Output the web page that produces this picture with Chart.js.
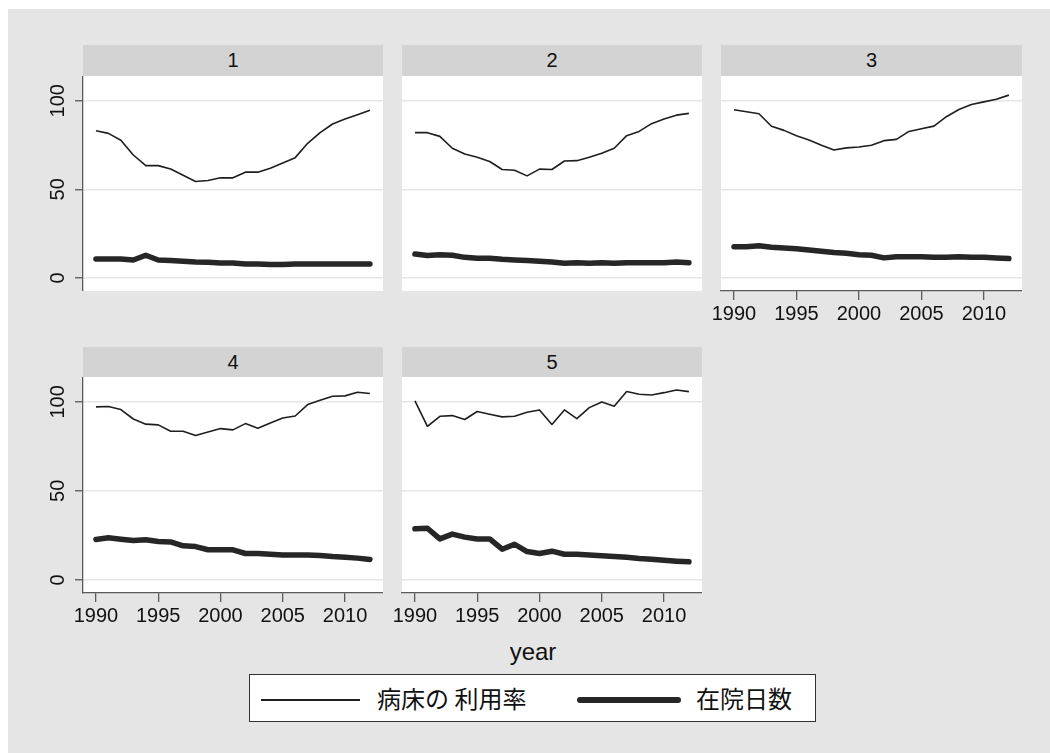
<!DOCTYPE html>
<html>
<head>
<meta charset="utf-8">
<script src="https://cdn.jsdelivr.net/npm/chart.js@4"></script>
<style>
  body { margin: 0; background: #fff; width: 1050px; height: 753px; position: relative; overflow: hidden; font-family: "Liberation Sans", Arial, sans-serif; }
  #bg { position: absolute; left: 8px; top: 9px; right: 0; bottom: 0; background: #e5e5e5; }
  canvas { position: absolute; }
  .strip { position: absolute; background: #d3d3d3; color: #111; font-size: 20px; text-align: center; }
  #xtitle { position: absolute; left: 433px; width: 200px; top: 638px; text-align: center; font-size: 24px; color: #111; }
  #legend { position: absolute; left: 249px; top: 674px; width: 565px; height: 46px; background: #fff; border: 1px solid #333; }
  #legend .ln { position: absolute; background: #1e1e1e; }
  #legend .txt { position: absolute; top: 0; height: 46px; line-height: 46px; font-family: "Noto Sans CJK JP", sans-serif; font-size: 24px; color: #111; white-space: pre; }
</style>
</head>
<body>
<div id="bg"></div>
<div id="xtitle">year</div>
<div id="legend">
  <div class="ln" style="left:11px; top:24px; width:99px; height:1.6px;"></div>
  <div class="txt" id="lab1" style="left:127px;"></div>
  <div class="ln" style="left:327px; top:22px; width:104px; height:6px; border-radius:3px; background:#262626;"></div>
  <div class="txt" id="lab2" style="left:446px;"></div>
</div>
<script>
// データ (1990-2012)
const years = [1990, 1991, 1992, 1993, 1994, 1995, 1996, 1997, 1998, 1999, 2000, 2001,
               2002, 2003, 2004, 2005, 2006, 2007, 2008, 2009, 2010, 2011, 2012];
const seriesNames = ['病床の 利用率', '在院日数'];
const panelNames = ['1', '2', '3', '4', '5'];
const xTicks = [1990, 1995, 2000, 2005, 2010];
const yTicks = [0, 50, 100];

const util1 = [83.1, 81.6, 77.7, 69.4, 63.4, 63.4, 61.5, 58.0, 54.4, 55.0, 56.5, 56.5, 59.7, 59.7, 61.9, 64.9, 67.9, 76.0, 82.0, 86.9, 89.7, 92.1, 94.6];
const stay1 = [10.7, 10.7, 10.7, 10.1, 12.8, 10.1, 9.8, 9.4, 9.0, 8.8, 8.4, 8.4, 7.9, 7.9, 7.5, 7.5, 7.9, 7.9, 7.9, 7.9, 7.9, 7.9, 7.9];
const util2 = [82.0, 82.0, 79.9, 73.2, 70.0, 68.1, 65.7, 61.2, 60.8, 57.6, 61.4, 61.2, 66.0, 66.2, 68.1, 70.4, 73.2, 80.3, 82.7, 87.1, 89.7, 91.9, 92.9];
const stay2 = [13.5, 12.6, 13.1, 12.8, 11.6, 11.1, 11.1, 10.5, 10.1, 9.8, 9.4, 9.0, 8.3, 8.6, 8.3, 8.6, 8.3, 8.6, 8.6, 8.6, 8.6, 9.0, 8.6];
const util3 = [94.9, 93.8, 92.7, 85.6, 83.3, 80.3, 77.9, 74.9, 72.2, 73.4, 73.9, 74.9, 77.5, 78.2, 82.7, 84.2, 85.7, 91.0, 95.1, 97.9, 99.4, 100.9, 103.2];
const stay3 = [17.6, 17.6, 18.2, 17.3, 16.9, 16.5, 15.8, 15.0, 14.3, 13.9, 13.1, 12.8, 11.3, 12.0, 12.0, 12.0, 11.6, 11.6, 12.0, 11.6, 11.6, 11.3, 10.9];
const util4 = [97.2, 97.4, 95.7, 90.4, 87.5, 87.1, 83.5, 83.5, 81.1, 83.1, 85.0, 84.3, 87.8, 85.2, 88.2, 91.0, 92.1, 98.5, 100.9, 103.2, 103.4, 105.4, 104.7];
const stay4 = [22.7, 23.6, 22.8, 22.1, 22.5, 21.5, 21.3, 19.1, 18.7, 16.9, 16.9, 16.9, 14.8, 14.8, 14.4, 14.0, 14.0, 14.0, 13.7, 13.1, 12.7, 12.2, 11.4];
const util5 = [100.6, 86.3, 91.9, 92.3, 90.1, 94.6, 93.1, 91.6, 91.9, 94.2, 95.5, 87.3, 95.5, 90.6, 96.8, 100.0, 97.6, 105.8, 104.3, 103.9, 105.2, 106.7, 105.8];
const stay5 = [28.7, 29.0, 23.0, 25.7, 24.0, 23.0, 23.0, 17.2, 20.0, 15.9, 14.8, 16.1, 14.4, 14.4, 13.9, 13.5, 13.1, 12.7, 12.0, 11.6, 11.0, 10.5, 10.1];

const utilData = [util1, util2, util3, util4, util5];
const stayData = [stay1, stay2, stay3, stay4, stay5];

// レイアウト
const panels = [
  { left: 0,   top: 76,  w: 383, h: 215, yw: 83, showY: true,  showX: false },
  { left: 386, top: 76,  w: 316, h: 215, yw: 16, showY: false, showX: false },
  { left: 705, top: 76,  w: 317, h: 260, yw: 16, showY: false, showX: true },
  { left: 0,   top: 377, w: 383, h: 261, yw: 83, showY: true,  showX: true },
  { left: 386, top: 377, w: 316, h: 261, yw: 16, showY: false, showX: true }
];
const stripTops = [45, 45, 45, 347, 347];
const stripH = [31, 31, 31, 30, 30];

const font = { family: "'Liberation Sans', Arial, sans-serif", size: 20 };
const axisColor = '#5a5a5a';

// プロット領域を白で塗る
const plotBg = {
  id: 'plotBg',
  beforeDraw(chart) {
    const a = chart.chartArea;
    const ctx = chart.ctx;
    ctx.save();
    ctx.fillStyle = '#ffffff';
    ctx.fillRect(a.left, a.top, a.right - a.left, a.bottom - a.top);
    ctx.restore();
  }
};

document.getElementById('lab1').textContent = seriesNames[0];
document.getElementById('lab2').textContent = seriesNames[1];

panels.forEach((p, i) => {
  const strip = document.createElement('div');
  strip.className = 'strip';
  strip.style.left = (p.left + p.yw) + 'px';
  strip.style.width = (p.w - p.yw) + 'px';
  strip.style.top = stripTops[i] + 'px';
  strip.style.height = stripH[i] + 'px';
  strip.style.lineHeight = stripH[i] + 'px';
  strip.textContent = panelNames[i];
  document.body.appendChild(strip);

  const cv = document.createElement('canvas');
  cv.width = p.w; cv.height = p.h;
  cv.style.left = p.left + 'px'; cv.style.top = p.top + 'px';
  cv.style.width = p.w + 'px'; cv.style.height = p.h + 'px';
  document.body.appendChild(cv);

  new Chart(cv.getContext('2d'), {
    type: 'line',
    data: {
      datasets: [
        {
          label: seriesNames[0],
          data: years.map((y, k) => ({ x: y, y: utilData[i][k] })),
          borderColor: '#1e1e1e', borderWidth: 1.6, pointRadius: 0, tension: 0,
          borderJoinStyle: 'round'
        },
        {
          label: seriesNames[1],
          data: years.map((y, k) => ({ x: y, y: stayData[i][k] })),
          borderColor: '#262626', borderWidth: 5.5, pointRadius: 0, tension: 0,
          borderCapStyle: 'round', borderJoinStyle: 'round'
        }
      ]
    },
    plugins: [plotBg],
    options: {
      responsive: false, animation: false,
      layout: { padding: 0 },
      plugins: { legend: { display: false }, tooltip: { enabled: false } },
      scales: {
        x: {
          type: 'linear', min: 1988.96, max: 2013.05, display: p.showX,
          afterBuildTicks: s => { s.ticks = xTicks.map(v => ({ value: v })); },
          afterFit: s => {
            s.height = p.showX ? 45 : 0;
            s.paddingLeft = 0; s.paddingRight = 0;
          },
          grid: { drawOnChartArea: false, color: axisColor, tickColor: axisColor, tickLength: 9, lineWidth: 1.3, tickWidth: 1.3 },
          border: { display: true, color: axisColor, width: 1.3 },
          ticks: { font: font, color: '#111', padding: 2, maxRotation: 0, autoSkip: false, callback: v => String(v) }
        },
        y: {
          type: 'linear', min: -7.4, max: 114,
          afterBuildTicks: s => { s.ticks = yTicks.map(v => ({ value: v })); },
          afterFit: s => { s.width = p.yw; s.paddingTop = 0; s.paddingBottom = 0; },
          grid: { color: '#e6e6e6', lineWidth: 1.5, tickColor: axisColor, tickWidth: 1.3, tickLength: 8, drawTicks: p.showY },
          border: { display: p.showY, color: axisColor, width: 1.3 },
          ticks: { display: p.showY, font: font, color: '#111', minRotation: 90, maxRotation: 90, crossAlign: 'center', padding: 0, callback: v => String(v) }
        }
      }
    }
  });
});
</script>
</body>
</html>
